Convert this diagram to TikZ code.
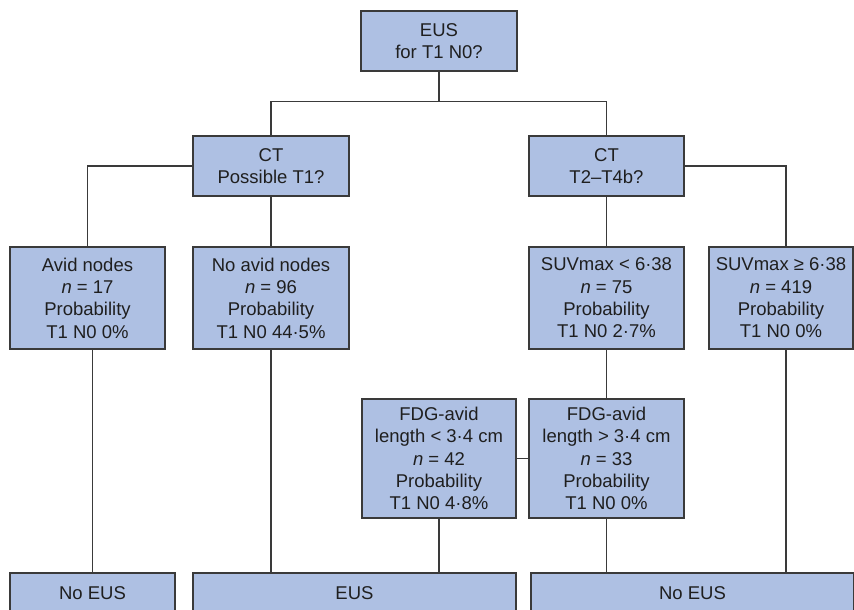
\documentclass[tikz,border=0pt]{standalone}
\usepackage{fontspec}
\setmainfont{Liberation Sans}
\usepackage{tikz}

\definecolor{boxfill}{RGB}{174,192,227}
\definecolor{linegray}{RGB}{58,58,58}

\begin{document}
\begin{tikzpicture}[x=1pt,y=-1pt]
\tikzstyle{every node}+=[inner sep=0pt]
\tikzstyle{box}=[draw=linegray, line width=1.3pt, fill=boxfill, align=center, text=black!88, font=\fontsize{18.5}{22.4}\selectfont, minimum width=155pt]
\tikzstyle{link}=[linegray, line width=1.3pt]
\clip (0,0) rectangle (854,610);
\node [box, minimum width=156pt, minimum height=60pt] (eus) at (439,41) {EUS\\for T1 N0?};
\node [box, minimum width=156pt, minimum height=60pt] (ctA) at (271,166) {CT\\Possible T1?};
\node [box, minimum height=60pt] (ctB) at (606.5,166) {CT\\T2--T4b?};
\node [box, minimum height=102pt] (avid) at (87.5,298) {Avid nodes\\\textit{n} = 17\\Probability\\T1 N0 0\%};
\node [box, minimum width=156pt, minimum height=102pt] (noavid) at (271,298) {No avid nodes\\\textit{n} = 96\\Probability\\T1 N0 44·5\%};
\node [box, minimum height=102pt] (suvlo) at (606.5,298) {SUVmax < 6·38\\\textit{n} = 75\\Probability\\T1 N0 2·7\%};
\node [box, minimum width=144pt, minimum height=102pt] (suvhi) at (781,298) {SUVmax ≥ 6·38\\\textit{n} = 419\\Probability\\T1 N0 0\%};
\node [box, minimum width=154pt, minimum height=119pt] (fdglo) at (439,458.5) {FDG-avid\\length < 3·4 cm\\\textit{n} = 42\\Probability\\T1 N0 4·8\%};
\node [box, minimum height=119pt] (fdghi) at (606.5,458.5) {FDG-avid\\length > 3·4 cm\\\textit{n} = 33\\Probability\\T1 N0 0\%};
\node [box, minimum width=165pt, minimum height=40pt] (noeusA) at (92.5,593) {No EUS};
\node [box, minimum width=323pt, minimum height=40pt] (eusB) at (354.5,593) {EUS};
\node [box, minimum width=323pt, minimum height=40pt] (noeusC) at (692.5,593) {No EUS};
% connectors
\draw [link] (eus.south) -- ++(0,30) coordinate (split);
\draw [link] (ctA.north) |- (split) -| (ctB.north);
\draw [link] (ctA.west) -| (avid.north);
\draw [link] (ctA.south) -- (noavid.north);
\draw [link] (ctB.south) -- (suvlo.north);
\draw [link] (ctB.east) -| ([xshift=5pt]suvhi.north);
\draw [link] (suvlo.south) -- (fdghi.north);
\draw [link] (fdglo.east) -- (fdghi.west);
\draw [link] ([xshift=5pt]avid.south) -- ([xshift=5pt]avid.south |- noeusA.north);
\draw [link] (noavid.south) -- (noavid.south |- eusB.north);
\draw [link] (fdglo.south) -- (fdglo.south |- eusB.north);
\draw [link] (fdghi.south) -- (fdghi.south |- noeusC.north);
\draw [link] ([xshift=5pt]suvhi.south) -- ([xshift=5pt]suvhi.south |- noeusC.north);
\end{tikzpicture}
\end{document}
